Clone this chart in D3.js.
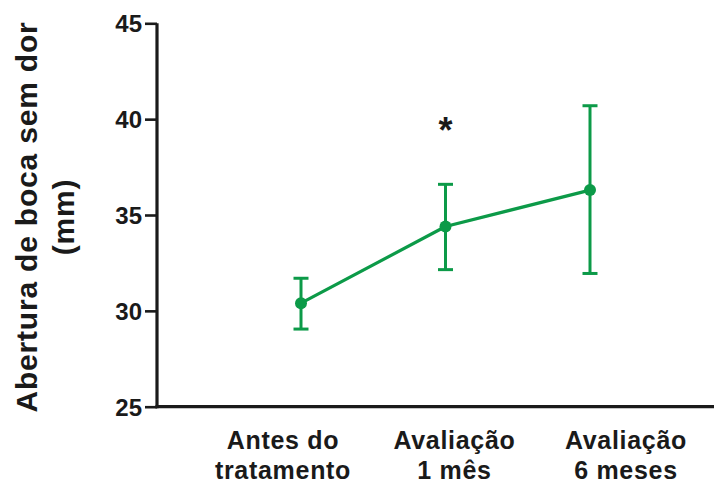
<!DOCTYPE html>
<html>
<head>
<meta charset="utf-8">
<script src="https://cdn.jsdelivr.net/npm/d3@7"></script>
<style>
  html, body { margin: 0; padding: 0; background: #fff; }
  svg { display: block; }
  text { font-family: "Liberation Sans", Arial, sans-serif; font-weight: bold; fill: #1a1a1a; }
</style>
</head>
<body>
<svg id="chart" width="724" height="486"></svg>
<script>
// Mouth opening without pain (mm), mean with error range
const categories = ["Antes do tratamento", "Avaliação 1 mês", "Avaliação 6 meses"];
const labelLines = [["Antes do", "tratamento"], ["Avaliação", "1 mês"], ["Avaliação", "6 meses"]];
const means = [30.4, 34.4, 36.3];
const upper = [31.7, 36.6, 40.7];
const lower = [29.05, 32.15, 31.95];
const significant = [false, true, false];
const yTicks = [25, 30, 35, 40, 45];

const green = "#0c9a48";
const ink = "#1a1a1a";

const svg = d3.select("#chart");

const axisX = 157, axisRight = 714;
const plotTop = 23.3, plotBottom = 406.7;

const y = d3.scaleLinear().domain([25, 45]).range([plotBottom, plotTop]);
const x = d3.scalePoint().domain(categories).range([301, 590]);
// category labels sit on their own spread under the axis
const xLabel = d3.scalePoint().domain(categories).range([283, 626]);

// y axis
const yAxis = d3.axisLeft(y).tickValues(yTicks).tickSize(12).tickPadding(3).tickFormat(d3.format("d"));
const gy = svg.append("g").attr("transform", `translate(${axisX},0)`).call(yAxis);
gy.select(".domain").attr("stroke", ink).attr("stroke-width", 3.2).attr("d", `M0,${plotTop}V${plotBottom + 1.5}`);
gy.selectAll(".tick line").attr("stroke", ink).attr("stroke-width", 2.6);
gy.selectAll(".tick text").attr("font-size", 24).attr("fill", ink)
  .attr("font-family", "'Liberation Sans', Arial, sans-serif").attr("font-weight", "bold")
  .attr("dy", "0.36em");

// x axis line
svg.append("line")
  .attr("x1", axisX - 1.5).attr("x2", axisRight)
  .attr("y1", y(25)).attr("y2", y(25))
  .attr("stroke", ink).attr("stroke-width", 3.2);

// category labels
const lab = svg.append("g").selectAll("text").data(categories).join("text")
  .attr("text-anchor", "middle")
  .attr("font-size", 25)
  .attr("letter-spacing", 0.7)
  .attr("x", d => xLabel(d));
lab.each(function(d, i) {
  const t = d3.select(this);
  labelLines[i].forEach((ln, k) => {
    t.append("tspan").attr("x", xLabel(d)).attr("y", k === 0 ? 449 : 479).text(ln);
  });
});

// y axis title
const title = svg.append("text")
  .attr("transform", "translate(0,217) rotate(-90)")
  .attr("text-anchor", "middle")
  .attr("font-size", 30)
  .attr("letter-spacing", 0.8);
title.append("tspan").attr("x", 0).attr("y", 37).text("Abertura de boca sem dor");
title.append("tspan").attr("x", 0).attr("y", 74).text("(mm)");

// connecting line
const line = d3.line().x((d, i) => x(categories[i])).y(d => y(d));
svg.append("path").datum(means)
  .attr("d", line).attr("fill", "none")
  .attr("stroke", green).attr("stroke-width", 3.2).attr("stroke-linejoin", "round");

// error bars
const capHalf = 7.5;
const eb = svg.append("g").attr("stroke", green).attr("stroke-width", 3);
categories.forEach((c, i) => {
  const cx = x(c);
  eb.append("line").attr("x1", cx).attr("x2", cx).attr("y1", y(upper[i])).attr("y2", y(lower[i]));
  eb.append("line").attr("x1", cx - capHalf).attr("x2", cx + capHalf).attr("y1", y(upper[i])).attr("y2", y(upper[i]));
  eb.append("line").attr("x1", cx - capHalf).attr("x2", cx + capHalf).attr("y1", y(lower[i])).attr("y2", y(lower[i]));
});

// mean markers
svg.append("g").selectAll("circle").data(means).join("circle")
  .attr("cx", (d, i) => x(categories[i]))
  .attr("cy", d => y(d))
  .attr("r", 6)
  .attr("fill", green);

// significance marks
svg.append("g").selectAll("text").data(categories.filter((c, i) => significant[i])).join("text")
  .attr("x", d => x(d))
  .attr("y", d => y(upper[categories.indexOf(d)]) - 41)
  .attr("text-anchor", "middle")
  .attr("font-size", 36)
  .text("*");
</script>
</body>
</html>
